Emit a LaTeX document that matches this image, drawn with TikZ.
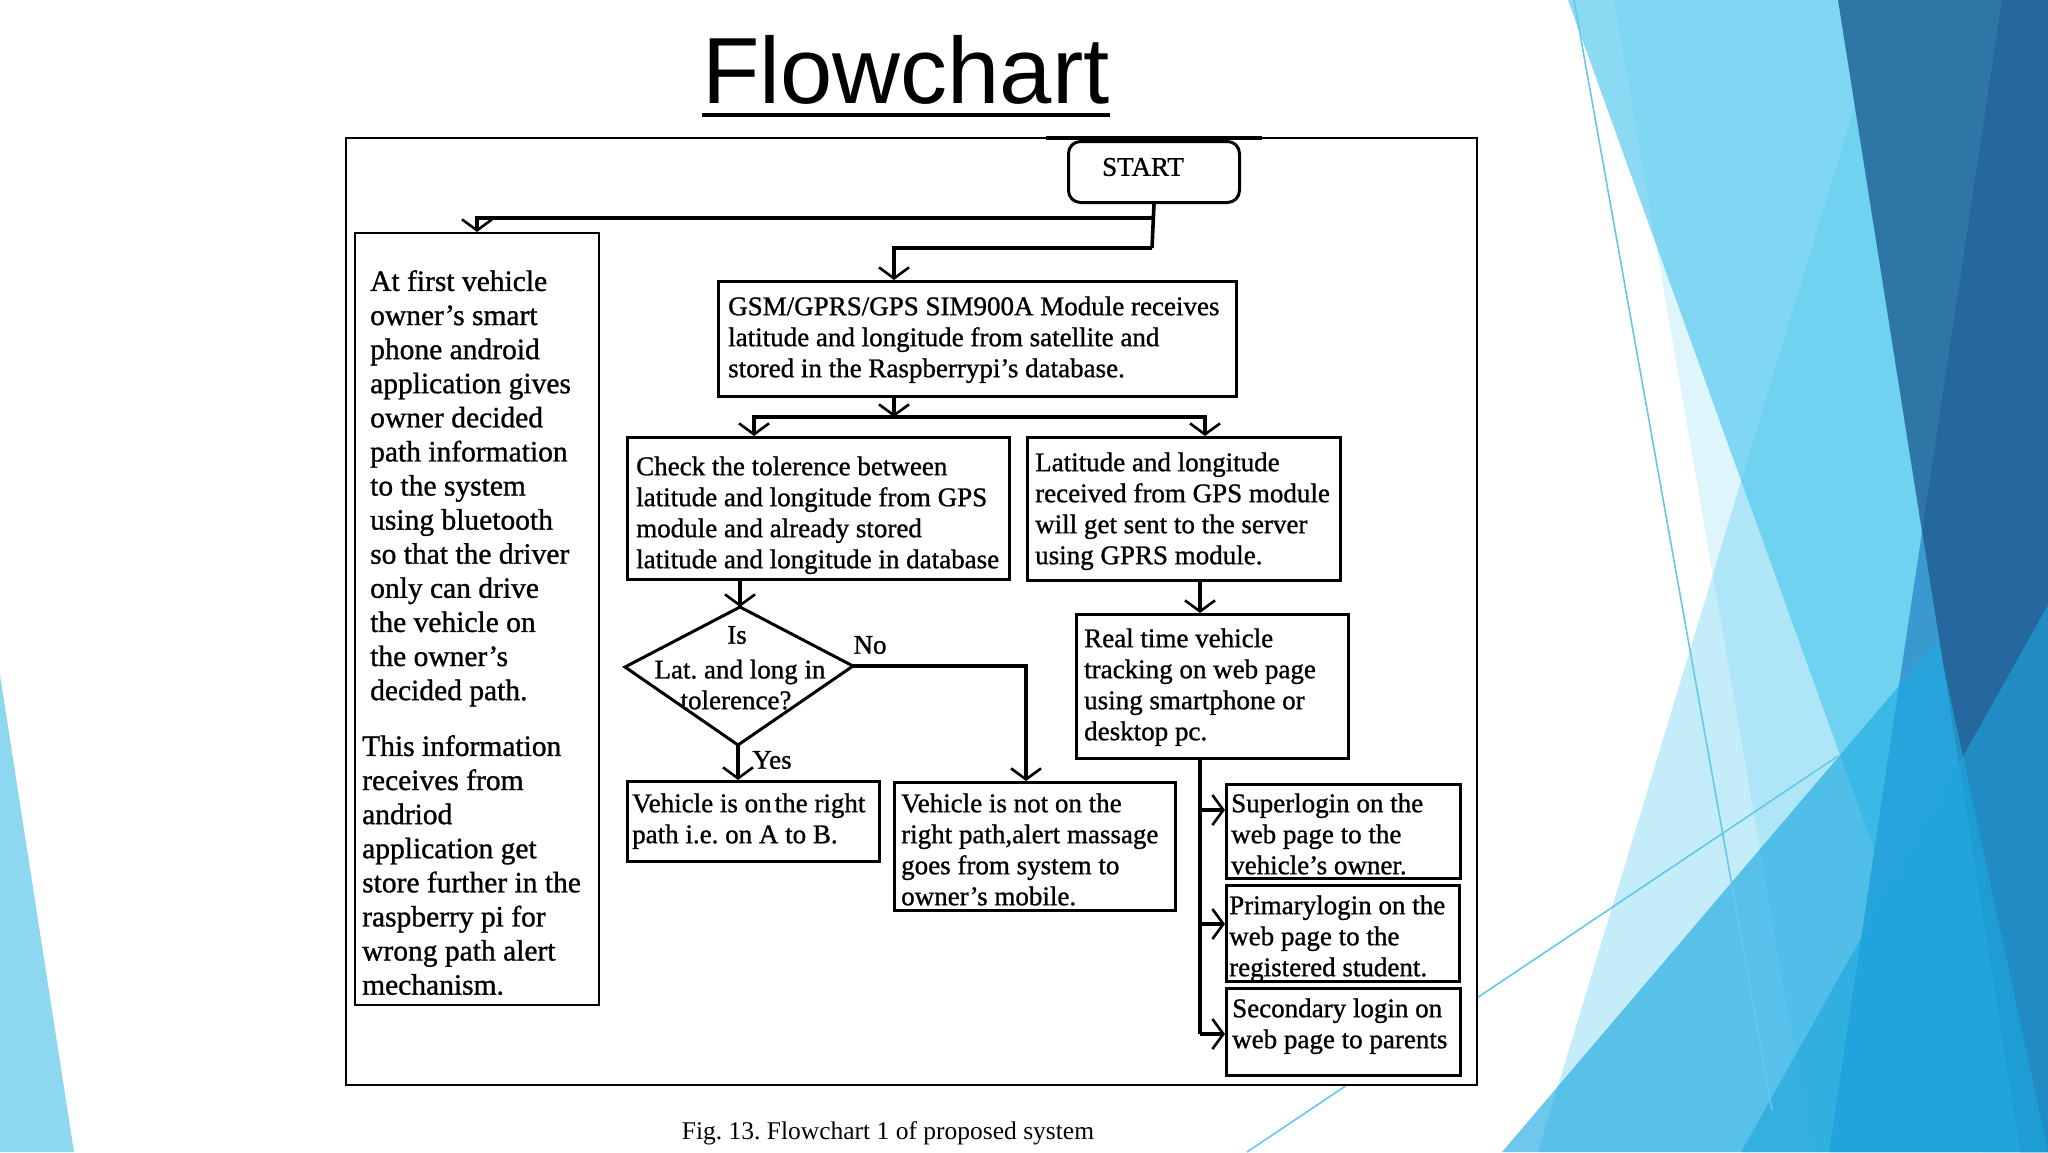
\documentclass[tikz,border=0pt]{standalone}
\usepackage{fontspec}
\setmainfont{Liberation Serif}[RawFeature={embolden=1.0}]
\newfontfamily\titlefont{Liberation Sans}
\newfontfamily\capfont{Liberation Serif}
\usetikzlibrary{arrows.meta,shapes.geometric}
\definecolor{lb}{RGB}{80,200,238}
\definecolor{darkb}{RGB}{46,118,166}
\definecolor{darkc}{RGB}{37,104,158}
\definecolor{medc}{RGB}{58,154,208}
\definecolor{brb}{RGB}{30,170,225}
\definecolor{bre}{RGB}{30,165,220}
\definecolor{leftb}{RGB}{141,216,240}
\definecolor{thinl}{RGB}{100,200,235}
\newcommand{\stA}{\rule{0pt}{19.5pt}}
\newcommand{\stB}{\rule{0pt}{21.2pt}}
\frenchspacing
\begin{document}
\begin{tikzpicture}[x=1pt,y=-1pt,
  box/.style={draw,line width=3.4pt,inner sep=0pt,anchor=north west},
  conn/.style={line width=3.6pt},
  arr/.style={conn,-{Straight Barb[length=11pt,width=30pt,line width=2.6pt]}},
  txt/.style={anchor=north west,inner sep=0pt,align=left,font=\fontsize{27}{31}\selectfont},
  lbl/.style={inner sep=0pt,font=\fontsize{27}{31}\selectfont},
  bigtxt/.style={anchor=north west,inner sep=0pt,align=left,font=\fontsize{29.5}{34.1}\selectfont},
]
\path[use as bounding box] (0,0) rectangle (2048,1152);
% ---------- background ----------
\fill[leftb] (0,675) -- (74,1152) -- (0,1152) -- cycle;
\fill[lb,opacity=0.67] (1568,0) -- (2048,0) -- (2048,1152) -- (1983,1152) -- cycle;
\fill[lb,opacity=0.33] (1855,105) -- (2048,105) -- (2048,1152) -- (1538,1152) -- cycle;
\fill[lb,opacity=0.19] (1614,0) -- (2048,0) -- (2048,1152) -- (1812,1152) -- cycle;
\fill[darkb] (1838,0) -- (2048,0) -- (2048,1152) -- (2020,1152) -- cycle;
\fill[darkc] (2002,0) -- (2048,0) -- (2048,1152) -- (2020,1152) -- (1922,532) -- cycle;
\fill[medc] (1922,532) -- (2020,1152) -- (1829,1152) -- cycle;
\fill[brb,opacity=0.65] (1502,1152) -- (1938,640) -- (1963,757) -- (2048,1152) -- cycle;
\fill[bre,opacity=0.6] (2048,605) -- (1741,1152) -- (2048,1152) -- cycle;
\draw[thinl,line width=1.6pt] (1574,0) -- (1772,1110);
\draw[thinl,line width=1.6pt] (1247,1152) -- (1838,756);
% ---------- title ----------
\node[font=\titlefont\fontsize{94}{100}\selectfont,anchor=base,inner sep=0pt] (title) at (906,103) {Flowchart};
\draw[line width=4.5pt] ([yshift=-12pt]title.base west) -- ([yshift=-12pt]title.base east);
% ---------- frame ----------
\node[draw,line width=2.2pt,fill=white,inner sep=0pt,anchor=north west,minimum width=1131pt,minimum height=947pt] (frame) at (345,137) {};
\draw[line width=3.5pt] (1046,138) -- (1262,138);
% ---------- boxes ----------
\node[box,line width=3pt,rounded corners=12pt,minimum width=171pt,minimum height=61pt] (start) at (1067,140) {};
\node[lbl] (starttxt) at (1143,167) {START};
\node[box,line width=2pt,minimum width=244pt,minimum height=772pt] (left) at (354,232) {};
\node[box,minimum width=518pt,minimum height=115pt] (gsm) at (717,280) {};
\node[box,minimum width=382pt,minimum height=142pt] (check) at (626,436) {};
\node[box,minimum width=313pt,minimum height=143pt] (latb) at (1026,436) {};
\node[box,minimum width=272pt,minimum height=144pt] (real) at (1075,613) {};
\coordinate (dt) at (740,607);
\coordinate (dr) at (853,666);
\coordinate (db) at (738,745);
\coordinate (dl) at (625,667);
\draw[line width=3pt,line join=miter] (dt) -- (dr) -- (db) -- (dl) -- cycle;
\node[box,minimum width=252pt,minimum height=80pt] (right) at (626,780) {};
\node[box,minimum width=281pt,minimum height=128pt] (notb) at (893,781) {};
\node[box,minimum width=234pt,minimum height=94pt] (sup) at (1225,783) {};
\node[box,minimum width=233pt,minimum height=96pt] (pri) at (1225,884) {};
\node[box,minimum width=234pt,minimum height=87pt] (sec) at (1225,987) {};
% ---------- texts ----------
\node[bigtxt] (lefttxta) at (370,269.5) {\stB At first vehicle\\owner's smart\\phone android\\application gives\\owner decided\\path information\\to the system\\using bluetooth\\so that the driver\\only can drive\\the vehicle on\\the owner's\\decided path.};
\node[bigtxt] (lefttxtb) at (362,734.5) {\stB This information\\receives from\\andriod\\application get\\store further in the\\raspberry pi for\\wrong path alert\\mechanism.};
\node[txt] (gsmtxt) at (728,295.5) {\stA GSM/GPRS/GPS SIM900A Module receives\\latitude and longitude from satellite and\\stored in the Raspberrypi's database.};
\node[txt] (checktxt) at (636,455.5) {\stA Check the tolerence between\\latitude and longitude from GPS\\module and already stored\\latitude and longitude in database};
\node[txt] (lattxt) at (1035,451.5) {\stA Latitude and longitude\\received from GPS module\\will get sent to the server\\using GPRS module.};
\node[txt] (realtxt) at (1084,627.5) {\stA Real time vehicle\\tracking on web page\\using smartphone or\\desktop pc.};
\node[txt] (righttxt) at (632,792.5) {\stA Vehicle is on\hspace{3pt}the right\\path i.e. on A to B.};
\node[txt] (nottxt) at (901,792.5) {\stA Vehicle is not on the\\right path,alert massage\\goes from system to\\owner's mobile.};
\node[txt] (suptxt) at (1231,792.5) {\stA Superlogin on the\\web page to the\\vehicle's owner.};
\node[txt] (pritxt) at (1229,894.5) {\stA Primarylogin on the\\web page to the\\registered student.};
\node[txt] (sectxt) at (1232,997.5) {\stA Secondary login on\\web page to parents};
\node[lbl] (d1) at (737,635) {Is};
\node[lbl] (d2) at (740,672) {Lat. and long in};
\node[lbl] (d3) at (736,700) {tolerence?};
\node[lbl] (no) at (870,645) {No};
\node[lbl] (yes) at (772,760) {Yes};
% ---------- connectors ----------
\coordinate (s1) at (1152,218);
\coordinate (s2) at (1152,248);
\coordinate (s3) at (894,417);
\coordinate (r1) at (1200,810);
\coordinate (r2) at (1200,924);
\coordinate (r3) at (1200,1034);
\draw[conn] (start.south) -- (s2);
\draw[arr] (s1) -| (left.north);
\draw[arr] (s2) -| (894,0 |- gsm.north);
\draw[arr] (894,0 |- gsm.south) -- (s3);
\draw[arr] (s3) -| (754,0 |- check.north);
\draw[arr] (s3) -| (1205,0 |- latb.north);
\draw[arr] (740,0 |- check.south) -- (dt);
\draw[arr] (db) -- (db |- right.north);
\draw[arr] (dr) -| (1026,0 |- notb.north);
\draw[arr] (1200,0 |- latb.south) -- (1200,0 |- real.north);
\draw[conn] (1200,0 |- real.south) -- (r3);
\draw[arr] (r1) -- (r1 -| sup.west);
\draw[arr] (r2) -- (r2 -| pri.west);
\draw[arr] (r3) -- (r3 -| sec.west);
% ---------- caption ----------
\node[font=\capfont\fontsize{25.5}{28}\selectfont,anchor=base,inner sep=0pt] (cap) at (888,1139) {Fig. 13. Flowchart 1 of proposed system};
\end{tikzpicture}
\end{document}
